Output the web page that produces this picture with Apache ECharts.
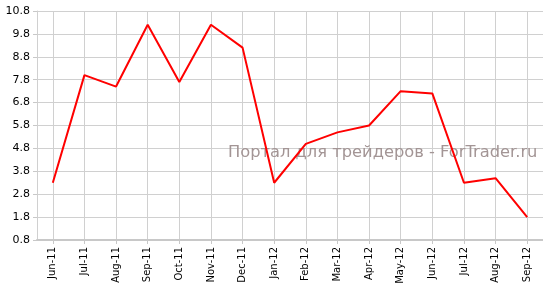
<!DOCTYPE html>
<html><head><meta charset="utf-8">
<script src="https://cdn.jsdelivr.net/npm/echarts@6/dist/echarts.min.js"></script>
<style>html,body{margin:0;padding:0;background:#fff}#c{width:543px;height:283px}</style>
</head><body><div id="c"></div>
<script>
const categories = ['Jun-11','Jul-11','Aug-11','Sep-11','Oct-11','Nov-11','Dec-11','Jan-12','Feb-12','Mar-12','Apr-12','May-12','Jun-12','Jul-12','Aug-12','Sep-12'];
const values = [3.3, 8.0, 7.5, 10.2, 7.7, 10.2, 9.2, 3.3, 5.0, 5.5, 5.8, 7.3, 7.2, 3.3, 3.5, 1.8];
const yTicks = [0.8, 1.8, 2.8, 3.8, 4.8, 5.8, 6.8, 7.8, 8.8, 9.8, 10.8];
const watermark = 'Портал для трейдеров - ForTrader.ru';

const chart = echarts.init(document.getElementById('c'), null, {renderer: 'canvas'});
chart.setOption({
  animation: false,
  backgroundColor: '#fff',
  grid: {left: 37, right: 0, top: 11, bottom: 43, containLabel: false, outerBoundsMode: 'none'},
  xAxis: {
    type: 'category', data: categories, boundaryGap: true,
    axisLine: {show: true, lineStyle: {color: '#c8c8c8', width: 2}},
    axisTick: {show: true, alignWithLabel: true, length: 4, lineStyle: {color: '#c8c8c8'}},
    splitLine: {show: true, alignWithLabel: true, lineStyle: {color: '#d0d0d0', width: 1}},
    axisLabel: {rotate: 90, interval: 0, margin: 7, color: '#000', fontFamily: 'DejaVu Sans', fontSize: 10}
  },
  yAxis: {
    type: 'value', min: 0.8, max: 10.8,
    axisLine: {show: true, lineStyle: {color: '#d0d0d0', width: 1}},
    axisTick: {show: true, length: 4, customValues: yTicks, lineStyle: {color: '#c8c8c8'}},
    splitLine: {show: true, lineStyle: {color: '#d0d0d0', width: 1}},
    axisLabel: {customValues: yTicks, margin: 7, color: '#000', fontFamily: 'DejaVu Sans', fontSize: 11,
      formatter: v => v.toFixed(1)}
  },
  graphic: [{
    type: 'text', left: 228, top: 145, z: 1,
    style: {text: watermark, fill: '#a39595', font: '16.3px "DejaVu Sans"'}
  }],
  series: [{
    type: 'line', data: values, symbol: 'none', z: 5,
    lineStyle: {color: '#ff0000', width: 2}
  }]
});
</script></body></html>
